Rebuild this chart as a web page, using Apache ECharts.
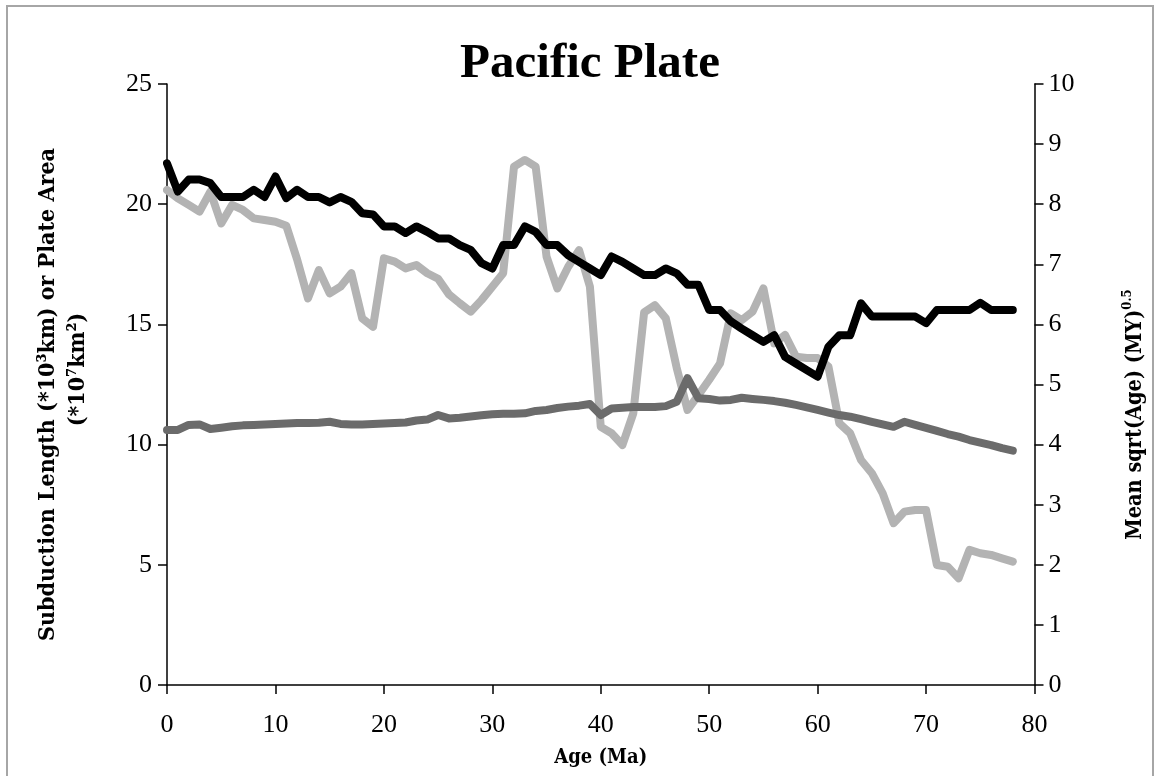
<!DOCTYPE html>
<html><head><meta charset="utf-8">
<script src="https://cdn.jsdelivr.net/npm/echarts@6/dist/echarts.min.js"></script>
<style>html,body{margin:0;padding:0;background:#fff}#c{width:1154px;height:776px}</style>
</head><body><div id="c"></div>
<script>
// Age (Ma)
const ages = [0,1,2,3,4,5,6,7,8,9,10,11,12,13,14,15,16,17,18,19,20,21,22,23,24,25,26,27,28,29,30,31,32,33,34,35,36,37,38,39,40,41,42,43,44,45,46,47,48,49,50,51,52,53,54,55,56,57,58,59,60,61,62,63,64,65,66,67,68,69,70,71,72,73,74,75,76,77,78];
// Subduction length (*10^3 km) — light grey, left axis
const subductionLength = [20.59,20.24,19.97,19.69,20.52,19.2,19.97,19.76,19.41,19.34,19.27,19.1,17.7,16.08,17.26,16.29,16.57,17.13,15.25,14.9,17.75,17.61,17.33,17.47,17.13,16.9,16.25,15.88,15.53,16.01,16.57,17.13,21.56,21.84,21.56,17.82,16.5,17.4,18.09,16.57,10.74,10.47,9.98,11.3,15.5,15.8,15.25,13.2,11.44,12.06,12.7,13.38,15.46,15.18,15.53,16.5,14.21,14.56,13.66,13.6,13.6,13.24,10.89,10.47,9.36,8.81,7.97,6.73,7.21,7.28,7.28,4.99,4.92,4.44,5.62,5.48,5.41,5.27,5.13];
// Plate area (*10^7 km^2) — dark grey, left axis
const plateArea = [10.61,10.61,10.82,10.84,10.65,10.70,10.76,10.80,10.82,10.84,10.86,10.88,10.90,10.90,10.91,10.95,10.86,10.84,10.84,10.86,10.88,10.90,10.92,11.0,11.04,11.23,11.09,11.12,11.17,11.22,11.26,11.28,11.28,11.30,11.40,11.44,11.52,11.58,11.62,11.69,11.23,11.50,11.53,11.56,11.56,11.56,11.60,11.78,12.76,11.93,11.90,11.83,11.86,11.95,11.90,11.86,11.81,11.74,11.65,11.55,11.44,11.33,11.23,11.16,11.06,10.95,10.84,10.74,10.95,10.82,10.70,10.57,10.44,10.33,10.19,10.08,9.98,9.85,9.75];
// Mean sqrt(Age) (MY)^0.5 — black, right axis
const meanSqrtAge = [8.68,8.21,8.41,8.41,8.35,8.12,8.12,8.12,8.24,8.12,8.46,8.10,8.24,8.12,8.12,8.03,8.12,8.04,7.85,7.83,7.63,7.63,7.52,7.63,7.54,7.43,7.43,7.32,7.24,7.02,6.93,7.32,7.32,7.63,7.54,7.32,7.32,7.15,7.04,6.93,6.82,7.13,7.04,6.93,6.82,6.82,6.93,6.85,6.66,6.66,6.24,6.24,6.05,5.93,5.82,5.71,5.82,5.46,5.35,5.24,5.13,5.63,5.82,5.82,6.35,6.13,6.13,6.13,6.13,6.13,6.02,6.24,6.24,6.24,6.24,6.36,6.24,6.24,6.24];

const pair = arr => ages.map((a, i) => [a, arr[i]]);
const SERIF = '"Liberation Serif", "DejaVu Serif", serif';
const NAMEFONT = '"DejaVu Serif Condensed", "DejaVu Serif", serif';
const chart = echarts.init(document.getElementById('c'), null, {renderer: 'canvas'});
const tickLbl = {color: '#000', fontFamily: SERIF, fontSize: 26};
chart.setOption({
  animation: false,
  backgroundColor: '#fff',
  title: {
    text: 'Pacific Plate', left: 585, top: 35, textAlign: 'center',
    textStyle: {fontFamily: SERIF, fontWeight: 'bold', fontSize: 49, color: '#000'}
  },
  graphic: [{
    type: 'rect', shape: {x: 7, y: 6, width: 1146, height: 790},
    style: {fill: 'none', stroke: '#a6a6a6', lineWidth: 2}, silent: true, z: 100
  }],
  grid: {left: 167, right: 111, top: 84, bottom: 91, containLabel: false},
  xAxis: {
    type: 'value', min: 0, max: 80, interval: 10,
    name: 'Age (Ma)', nameLocation: 'middle', nameGap: 63,
    nameTextStyle: {fontFamily: NAMEFONT, fontWeight: 'bold', fontSize: 20, color: '#000'},
    axisLine: {show: true, onZero: false, lineStyle: {color: '#000', width: 1.5}},
    axisTick: {show: true, inside: false, length: 9, lineStyle: {color: '#000', width: 1.5}},
    axisLabel: Object.assign({margin: 27}, tickLbl),
    splitLine: {show: false}
  },
  yAxis: [{
    type: 'value', min: 0, max: 25, interval: 5, position: 'left',
    name: '{a|Subduction Length (*10³km) or Plate Area}\n{b|(*10⁷km²)}',
    nameLocation: 'middle', nameGap: 74, nameRotate: 90,
    nameTextStyle: {align: 'center', padding: [0, 20, 0, 0], rich: {
      a: {fontFamily: NAMEFONT, fontWeight: 'bold', fontSize: 23, lineHeight: 30, color: '#000', align: 'center'},
      b: {fontFamily: NAMEFONT, fontWeight: 'bold', fontSize: 23, lineHeight: 30, color: '#000', align: 'center', padding: [0, 0, 0, 50]}
    }},
    axisLine: {show: true, lineStyle: {color: '#000', width: 1.5}},
    axisTick: {show: true, inside: false, length: 9, lineStyle: {color: '#000', width: 1.5}},
    axisLabel: Object.assign({margin: 15}, tickLbl),
    splitLine: {show: false}
  }, {
    type: 'value', min: 0, max: 10, interval: 1, position: 'right',
    name: '{a|Mean sqrt(Age) (MY)}{b|0.5}',
    nameLocation: 'middle', nameGap: 87, nameRotate: 90,
    nameTextStyle: {padding: [0, 60, 0, 0], rich: {
      a: {fontFamily: NAMEFONT, fontWeight: 'bold', fontSize: 21.5, lineHeight: 27, color: '#000'},
      b: {fontFamily: NAMEFONT, fontWeight: 'bold', fontSize: 13, lineHeight: 14, verticalAlign: 'top', color: '#000'}
    }},
    axisLine: {show: true, lineStyle: {color: '#000', width: 1.5}},
    axisTick: {show: true, inside: false, length: 9, lineStyle: {color: '#000', width: 1.5}},
    axisLabel: Object.assign({margin: 14}, tickLbl),
    splitLine: {show: false}
  }],
  series: [{
    name: 'Subduction Length', type: 'line', yAxisIndex: 0, data: pair(subductionLength),
    showSymbol: false, lineStyle: {color: '#b3b3b3', width: 8, cap: 'round', join: 'round'}
  }, {
    name: 'Plate Area', type: 'line', yAxisIndex: 0, data: pair(plateArea),
    showSymbol: false, lineStyle: {color: '#6b6b6b', width: 8, cap: 'round', join: 'round'}
  }, {
    name: 'Mean sqrt(Age)', type: 'line', yAxisIndex: 1, data: pair(meanSqrtAge),
    showSymbol: false, lineStyle: {color: '#000', width: 8, cap: 'round', join: 'round'}
  }]
});
</script></body></html>
